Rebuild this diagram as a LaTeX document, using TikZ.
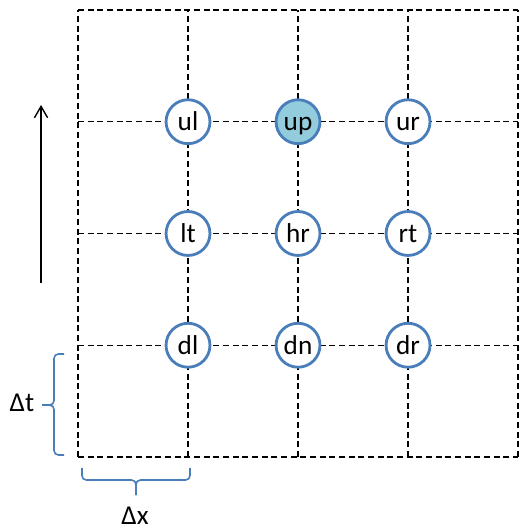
\documentclass[tikz,border=0pt]{standalone}
\usepackage{fontspec}
\setmainfont{Carlito}
\usetikzlibrary{arrows.meta}
\definecolor{ringblue}{RGB}{74,126,187}
\definecolor{upfill}{RGB}{147,205,221}
\begin{document}
\begin{tikzpicture}[x=2.2cm,y=2.235cm,
  pt/.style={draw=ringblue,circle,line width=1.6pt,fill=white,minimum size=25pt,inner sep=0pt,
    text height=12.5pt,text depth=2.5pt,font=\fontsize{15.5}{18}\selectfont},
  gridline/.style={dash pattern=on 3.5pt off 2pt,line width=0.8pt},
  bracket/.style={draw=ringblue,line width=0.9pt,rounded corners=2.5pt},
  lbl/.style={inner sep=1pt,font=\fontsize{15.5}{18}\selectfont}]
\useasboundingbox (-0.709,-0.662) rectangle (4.036,4.089);
\foreach \i in {0,...,4} {
  \draw[gridline] (\i,0) -- (\i,4);
  \draw[gridline] (0,\i) -- (4,\i);
}
\node[pt] (ul) at (1,3) {ul};
\node[pt,fill=upfill] (up) at (2,3) {up};
\node[pt] (ur) at (3,3) {ur};
\node[pt] (lt) at (1,2) {lt};
\node[pt] (hr) at (2,2) {hr};
\node[pt] (rt) at (3,2) {rt};
\node[pt] (dl) at (1,1) {dl};
\node[pt] (dn) at (2,1) {dn};
\node[pt] (dr) at (3,1) {dr};
% time direction
\coordinate (tail) at (-0.336,1.557);
\coordinate (head) at (-0.336,3.15);
\draw[-{Straight Barb[length=6.5pt,width=7.5pt]},line width=0.8pt] (tail) -- (head);
% step sizes
\draw[bracket] (-0.327,0.465) -- (-0.218,0.465) -- (-0.218,0.922) -- (-0.127,0.922);
\draw[bracket] (-0.327,0.465) -- (-0.218,0.465) -- (-0.218,0.018) -- (-0.127,0.018);
\node[lbl] (dt) at (-0.51,0.488) {Δt};
\draw[bracket] (0.527,-0.34) -- (0.527,-0.206) -- (0.036,-0.206) -- (0.036,-0.098);
\draw[bracket] (0.527,-0.34) -- (0.527,-0.206) -- (1.018,-0.206) -- (1.018,-0.098);
\node[lbl] (dx) at (0.518,-0.53) {Δx};
\end{tikzpicture}
\end{document}
